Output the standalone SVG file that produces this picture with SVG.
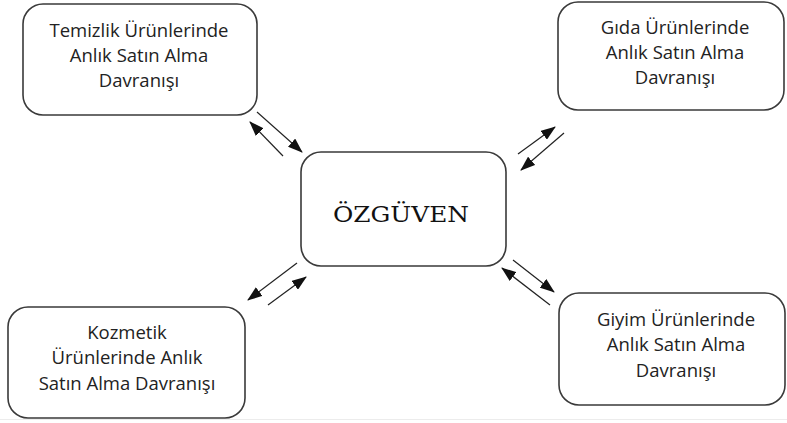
<svg xmlns="http://www.w3.org/2000/svg" width="787" height="423" viewBox="0 0 787 423">
<style>
.box{fill:#fff;stroke:#3a3a3a;stroke-width:1.6}
.t{font-family:"Open Sans","Liberation Sans",sans-serif;font-size:18.5px;fill:#222;text-anchor:middle}
.c{font-family:"DejaVu Serif","Liberation Serif",serif;font-size:21.5px;fill:#111;text-anchor:middle}
.a{stroke:#222;stroke-width:1.2;fill:none;marker-end:url(#ah)}
</style>
<defs>
<marker id="ah" viewBox="0 0 15 11" refX="14" refY="5.5" markerWidth="15" markerHeight="11" markerUnits="userSpaceOnUse" orient="auto">
<path d="M0,0 L15,5.5 L0,11 Z" fill="#111"/>
</marker>
</defs>
<rect width="787" height="423" fill="#fff"/>
<line x1="0" y1="419.5" x2="787" y2="419.5" stroke="#ececec" stroke-width="1"/>
<g id="temizlik">
<rect class="box" x="23" y="4" width="234" height="111" rx="20"/>
<text class="t" x="139" y="37">Temizlik Ürünlerinde</text>
<text class="t" x="139" y="62">Anlık Satın Alma</text>
<text class="t" x="139" y="87">Davranışı</text>
</g>
<g id="gida">
<rect class="box" x="558" y="2" width="226" height="108" rx="20"/>
<text class="t" x="675" y="34">Gıda Ürünlerinde</text>
<text class="t" x="675" y="59">Anlık Satın Alma</text>
<text class="t" x="675" y="84">Davranışı</text>
</g>
<g id="ozguven">
<rect class="box" x="301" y="152" width="205" height="114" rx="20"/>
<text class="c" x="401" y="222" textLength="136" lengthAdjust="spacingAndGlyphs">ÖZGÜVEN</text>
</g>
<g id="kozmetik">
<rect class="box" x="8" y="307" width="237" height="111" rx="20"/>
<text class="t" x="127" y="339">Kozmetik</text>
<text class="t" x="127" y="364">Ürünlerinde Anlık</text>
<text class="t" x="127" y="390">Satın Alma Davranışı</text>
</g>
<g id="giyim">
<rect class="box" x="559" y="293" width="226" height="112" rx="20"/>
<text class="t" x="676" y="326">Giyim Ürünlerinde</text>
<text class="t" x="676" y="351">Anlık Satın Alma</text>
<text class="t" x="676" y="377">Davranışı</text>
</g>
<g id="connectors">
<line class="a" x1="257" y1="112" x2="302" y2="152"/>
<line class="a" x1="283" y1="156" x2="250" y2="122"/>
<line class="a" x1="518" y1="154" x2="555" y2="127"/>
<line class="a" x1="564" y1="133" x2="521" y2="170"/>
<line class="a" x1="297" y1="263" x2="248" y2="300"/>
<line class="a" x1="268" y1="305" x2="306" y2="277"/>
<line class="a" x1="513" y1="260" x2="554" y2="292"/>
<line class="a" x1="550" y1="305" x2="502" y2="268"/>
</g>
</svg>
